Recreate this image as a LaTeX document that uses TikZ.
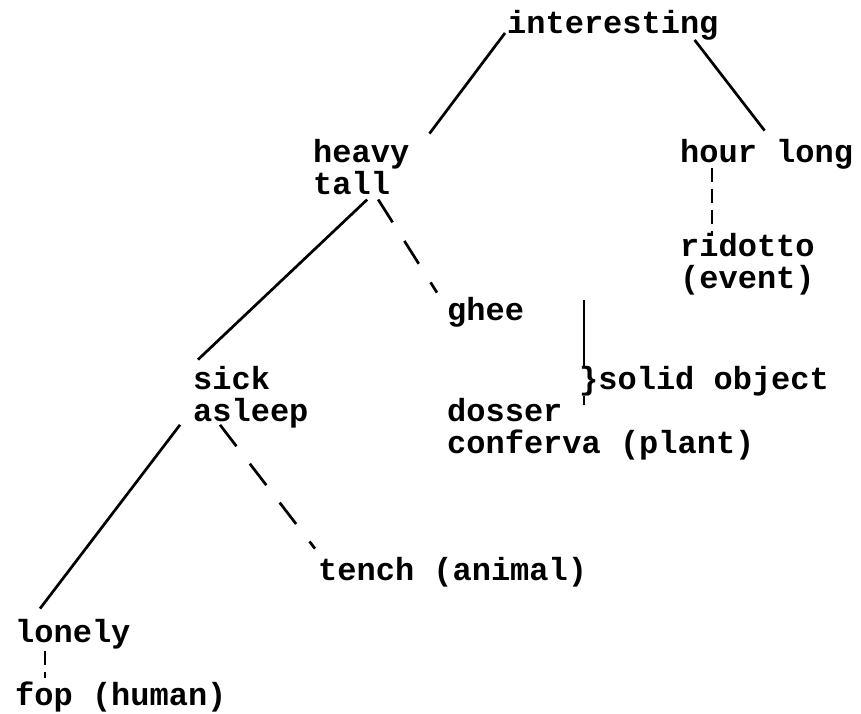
\documentclass[tikz,border=0pt]{standalone}
\usepackage{fontspec}
\setmonofont{Liberation Mono}
\usepackage{tikz}
\usetikzlibrary{positioning,calc}
\tikzset{
    word/.style={anchor=base west, inner sep=0pt, align=left, font=\ttfamily\bfseries\fontsize{32}{32}\selectfont},
    link/.style={line width=2.7pt, black},
    dlink/.style={line width=2.7pt, black, dash pattern=on 27pt off 22pt},
    slink/.style={line width=2.7pt, black, dash pattern=on 14pt off 7pt},
}

\begin{document}
\begin{tikzpicture}[x=1pt, y=-1pt]
    \useasboundingbox (0,0) rectangle (861,713);
    \node[word] (int) at (507,33) {interesting};
    \node[word] (heavy) at (313,194) {heavy\\tall};
    \node[word] (hour) at (680,162) {hour long};
    \node[word] (rid) at (680,288) {ridotto\\(event)};
    \node[word] (ghee) at (447,320) {ghee};
    \node[word] (sick) at (193,421) {sick\\asleep};
    \node[word] (sol) at (579,389) {\}solid object};
    \node[word] (dos) at (447,453) {dosser\\conferva (plant)};
    \node[word] (tench) at (318,580) {tench (animal)};
    \node[word] (lonely) at (15,642) {lonely};
    \node[word] (fop) at (15,705) {fop (human)};
    \coordinate (solT) at (584,300);
    \coordinate (solB) at (584,405);
    % tree
    \draw[link] ([shift={(-2,0)}]int.base west) -- ([shift={(20,-5)}]heavy.north east);
    \draw[link] ([xshift=-24pt]int.south east) -- ([shift={(-2,-8)}]hour.north);
    \draw[link] ([shift={(6,5)}]heavy.south) -- ([shift={(5,-6)}]sick.north west);
    \draw[dlink] ([shift={(17,5)}]heavy.south) -- ([shift={(-10,-4)}]ghee.north west);
    \draw[slink] ([shift={(32,-1)}]hour.south west) -- ([shift={(32,3)}]rid.north west);
    \draw[link] ([shift={(-13,-3)}]sick.south west) -- ([shift={(25,-10)}]lonely.north west);
    \draw[dlink] ([shift={(27,-3)}]sick.south west) -- ([shift={(-3,-8)}]tench.north west);
    \draw[slink] ([shift={(30,2)}]lonely.south west) -- ([shift={(30,-3)}]fop.north west);
    % brace
    \draw[link] (solT) -- ([xshift=5pt]sol.north west);
    \draw[link] ([xshift=5pt]sol.south west) -- (solB);
\end{tikzpicture}
\end{document}
